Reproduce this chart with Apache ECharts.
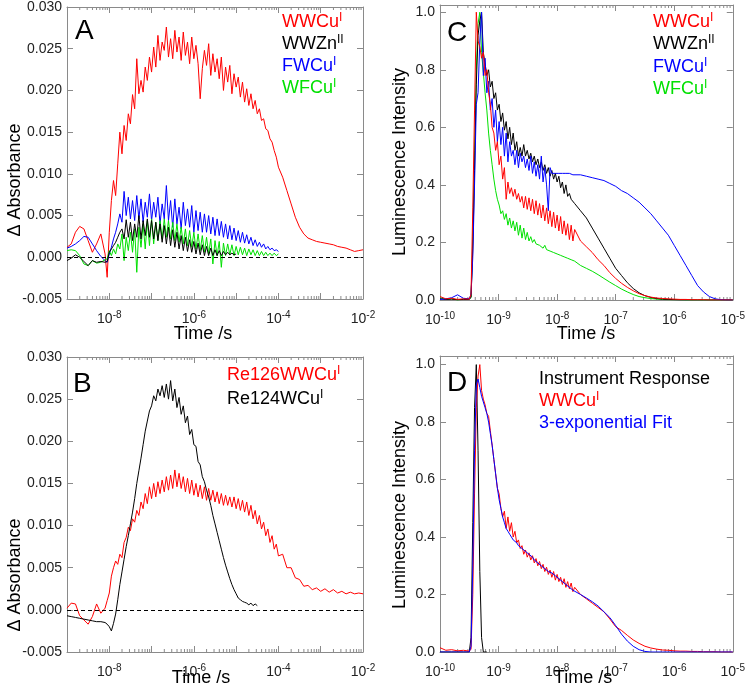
<!DOCTYPE html>
<html>
<head>
<meta charset="utf-8">
<title>Transient absorption and luminescence decays</title>
<script src="https://cdn.jsdelivr.net/npm/echarts@6/dist/echarts.min.js"></script>
<style>
  html, body { margin: 0; padding: 0; background: #fff; }
  #chart { width: 748px; height: 693px; }
</style>
</head>
<body>
<div id="chart"></div>
<script>
// sampling times, as log10(t / s)
const logTimeAB = [
  -9.0, -8.9, -8.8, -8.7, -8.6, -8.5, -8.4, -8.3, -8.2, -8.1,
  -8.05, -8.0, -7.95, -7.9, -7.85, -7.8, -7.75, -7.7, -7.65, -7.6,
  -7.55, -7.5, -7.45, -7.4, -7.35, -7.3, -7.25, -7.2, -7.15, -7.1,
  -7.05, -7.0, -6.95, -6.9, -6.85, -6.8, -6.75, -6.7, -6.65, -6.6,
  -6.55, -6.5, -6.45, -6.4, -6.35, -6.3, -6.25, -6.2, -6.15, -6.1,
  -6.05, -6.0, -5.95, -5.9, -5.85, -5.8, -5.75, -5.7, -5.65, -5.6,
  -5.55, -5.5, -5.45, -5.4, -5.35, -5.3, -5.25, -5.2, -5.15, -5.1,
  -5.05, -5.0, -4.95, -4.9, -4.85, -4.8, -4.75, -4.7, -4.65, -4.6,
  -4.55, -4.5, -4.45, -4.4, -4.35, -4.3, -4.25, -4.2, -4.15, -4.1,
  -4.05, -4.0, -3.9, -3.8, -3.7, -3.6, -3.5, -3.4, -3.3, -3.2,
  -3.1, -3.0, -2.9, -2.8, -2.7, -2.6, -2.5, -2.4, -2.3, -2.2,
  -2.1, -2.0
];
const logTimeCD = [
  -10.0, -9.9, -9.8, -9.7, -9.6, -9.5,
  -9.47, -9.44, -9.41, -9.38, -9.35, -9.32, -9.29, -9.26, -9.23, -9.2,
  -9.17, -9.14, -9.11, -9.08, -9.05, -9.02, -8.99, -8.96, -8.93, -8.9,
  -8.87, -8.84, -8.81, -8.78, -8.75, -8.72, -8.69, -8.66, -8.63, -8.6,
  -8.57, -8.54, -8.51, -8.48, -8.45, -8.42, -8.39, -8.36, -8.33, -8.3,
  -8.27, -8.24, -8.21, -8.18, -8.15, -8.12, -8.09, -8.06, -8.03, -8.0,
  -7.97, -7.94, -7.91, -7.88, -7.85, -7.82, -7.79, -7.76, -7.73, -7.7,
  -7.6, -7.5, -7.4, -7.3, -7.2, -7.1, -7.0, -6.9, -6.8, -6.7,
  -6.6, -6.5, -6.4, -6.3, -6.2, -6.1, -6.0, -5.9, -5.8, -5.7,
  -5.6, -5.5, -5.4, -5.3, -5.2, -5.1, -5.0
];

// panel A, delta absorbance
const wwcuA = [
  0.0012, 0.0016, 0.0030, 0.0037, 0.0034, 0.0020, 0.0006, 0.0016, 0.0028, 0.0004,
  -0.0024, 0.0030, 0.0068, 0.0092, 0.0074, 0.0112, 0.0150, 0.0124, 0.0158, 0.0140,
  0.0172, 0.0160, 0.0195, 0.0178, 0.0238, 0.0196, 0.0212, 0.0198, 0.0228, 0.0212,
  0.0240, 0.0222, 0.0252, 0.0228, 0.0266, 0.0236, 0.0258, 0.0248, 0.0276, 0.0240,
  0.0262, 0.0238, 0.0272, 0.0246, 0.0264, 0.0236, 0.0270, 0.0242, 0.0258, 0.0232,
  0.0264, 0.0238, 0.0254, 0.0232, 0.0190, 0.0226, 0.0248, 0.0230, 0.0256, 0.0218,
  0.0244, 0.0222, 0.0238, 0.0214, 0.0240, 0.0200, 0.0228, 0.0210, 0.0230, 0.0196,
  0.0220, 0.0204, 0.0216, 0.0192, 0.0210, 0.0186, 0.0202, 0.0182, 0.0196, 0.0178,
  0.0188, 0.0172, 0.0178, 0.0164, 0.0166, 0.0154, 0.0152, 0.0142, 0.0138, 0.0128,
  0.0120, 0.0108, 0.0096, 0.0080, 0.0064, 0.0048, 0.0036, 0.0028, 0.0023, 0.0021,
  0.0019, 0.0018, 0.0017, 0.0016, 0.0015, 0.0013, 0.0012, 0.0011, 0.0009, 0.0007,
  0.0008, 0.0009
];
const fwcuA = [
  0.0011, 0.0013, 0.0016, 0.0020, 0.0025, 0.0024, 0.0016, 0.0008, 0.0001, -0.0004,
  -0.0006, 0.0004, 0.0012, 0.0022, 0.0030, 0.0040, 0.0052, 0.0042, 0.0079, 0.0050,
  0.0072, 0.0046, 0.0068, 0.0044, 0.0074, 0.0046, 0.0070, 0.0042, 0.0066, 0.0048,
  0.0076, 0.0044, 0.0066, 0.0048, 0.0072, 0.0040, 0.0064, 0.0046, 0.0086, 0.0044,
  0.0068, 0.0036, 0.0070, 0.0040, 0.0060, 0.0034, 0.0066, 0.0038, 0.0058, 0.0036,
  0.0062, 0.0030, 0.0056, 0.0032, 0.0054, 0.0030, 0.0052, 0.0030, 0.0050, 0.0028,
  0.0048, 0.0026, 0.0046, 0.0026, 0.0043, 0.0024, 0.0040, 0.0022, 0.0038, 0.0021,
  0.0035, 0.0020, 0.0032, 0.0018, 0.0030, 0.0017, 0.0027, 0.0016, 0.0024, 0.0014,
  0.0021, 0.0013, 0.0018, 0.0012, 0.0016, 0.0010, 0.0013, 0.0009, 0.0011, 0.0008,
  0.0009, 0.0007
];
const wfcuA = [
  0.0008, 0.0009, 0.0008, 0.0002, -0.0008, -0.0010, -0.0004, -0.0007, -0.0006, -0.0003,
  -0.0002, 0.0008, 0.0002, 0.0010, 0.0004, 0.0016, 0.0010, 0.0028, -0.0004, 0.0024,
  0.0008, 0.0030, 0.0006, 0.0034, -0.0018, 0.0036, 0.0012, 0.0040, 0.0010, 0.0044,
  0.0014, 0.0046, 0.0016, 0.0042, 0.0020, 0.0044, 0.0022, 0.0046, 0.0024, 0.0044,
  0.0022, 0.0042, 0.0020, 0.0040, 0.0018, 0.0036, 0.0016, 0.0034, 0.0014, 0.0032,
  0.0012, 0.0030, 0.0010, 0.0028, 0.0008, 0.0026, 0.0006, 0.0024, 0.0004, 0.0022,
  -0.0008, 0.0020, 0.0002, 0.0019, -0.0012, 0.0017, 0.0002, 0.0016, 0.0003, 0.0015,
  0.0002, 0.0013, 0.0003, 0.0012, 0.0003, 0.0011, 0.0002, 0.0010, 0.0003, 0.0009,
  0.0002, 0.0008, 0.0002, 0.0007, 0.0002, 0.0006, 0.0002, 0.0005, 0.0002, 0.0005,
  0.0002, 0.0004
];
const wwznA = [
  -0.0004, -0.0001, 0.0003, 0.0000, -0.0005, -0.0010, -0.0004, -0.0006, -0.0005, -0.0006,
  -0.0005, 0.0006, 0.0010, 0.0014, 0.0018, 0.0024, 0.0030, 0.0034, 0.0022, 0.0045,
  0.0024, 0.0042, 0.0020, 0.0040, 0.0024, 0.0050, 0.0022, 0.0044, 0.0026, 0.0046,
  0.0024, 0.0044, 0.0022, 0.0042, 0.0020, 0.0040, 0.0018, 0.0038, 0.0016, 0.0036,
  0.0014, 0.0033, 0.0012, 0.0030, 0.0010, 0.0026, 0.0008, 0.0024, 0.0007, 0.0021,
  0.0006, 0.0019, 0.0004, 0.0017, 0.0003, 0.0015, 0.0002, 0.0013, 0.0002, 0.0011,
  0.0002, 0.0009, 0.0002, 0.0008, 0.0002, 0.0007, 0.0003, 0.0006, 0.0003, 0.0005,
  0.0003, 0.0004
];

// panel B, delta absorbance
const re126B = [
  0.0002, 0.0008, 0.0007, -0.0007, -0.0012, -0.0017, -0.0008, 0.0007, -0.0004, 0.0002,
  0.0011, 0.0020, 0.0040, 0.0050, 0.0058, 0.0054, 0.0066, 0.0062, 0.0080, 0.0086,
  0.0098, 0.0094, 0.0108, 0.0104, 0.0118, 0.0112, 0.0128, 0.0120, 0.0138, 0.0126,
  0.0146, 0.0132, 0.0150, 0.0134, 0.0152, 0.0138, 0.0154, 0.0140, 0.0158, 0.0142,
  0.0160, 0.0144, 0.0166, 0.0146, 0.0162, 0.0144, 0.0158, 0.0140, 0.0156, 0.0138,
  0.0154, 0.0136, 0.0150, 0.0134, 0.0148, 0.0132, 0.0146, 0.0130, 0.0144, 0.0130,
  0.0142, 0.0128, 0.0140, 0.0126, 0.0138, 0.0124, 0.0136, 0.0124, 0.0134, 0.0122,
  0.0134, 0.0120, 0.0132, 0.0118, 0.0130, 0.0116, 0.0128, 0.0112, 0.0124, 0.0108,
  0.0118, 0.0102, 0.0112, 0.0096, 0.0104, 0.0088, 0.0096, 0.0080, 0.0088, 0.0072,
  0.0078, 0.0064, 0.0066, 0.0050, 0.0050, 0.0038, 0.0036, 0.0028, 0.0029, 0.0024,
  0.0026, 0.0022, 0.0025, 0.0021, 0.0024, 0.0020, 0.0022, 0.0019, 0.0021, 0.0019,
  0.0020, 0.0019
];
const re124B = [
  -0.0007, -0.0008, -0.0009, -0.0010, -0.0011, -0.0012, -0.0013, -0.0014, -0.0014, -0.0015,
  -0.0017, -0.0020, -0.0025, -0.0016, -0.0005, 0.0012, 0.0030, 0.0045, 0.0060, 0.0075,
  0.0088, 0.0102, 0.0116, 0.0132, 0.0150, 0.0165, 0.0180, 0.0196, 0.0212, 0.0224,
  0.0236, 0.0242, 0.0254, 0.0248, 0.0262, 0.0254, 0.0266, 0.0252, 0.0268, 0.0250,
  0.0272, 0.0248, 0.0262, 0.0240, 0.0252, 0.0232, 0.0242, 0.0222, 0.0230, 0.0208,
  0.0214, 0.0196, 0.0194, 0.0176, 0.0172, 0.0158, 0.0152, 0.0142, 0.0134, 0.0124,
  0.0112, 0.0102, 0.0092, 0.0082, 0.0072, 0.0062, 0.0053, 0.0045, 0.0037, 0.0030,
  0.0024, 0.0019, 0.0014, 0.0012, 0.0010, 0.0009, 0.0008, 0.0006, 0.0008, 0.0005,
  0.0007, 0.0005
];

// panel C, normalised luminescence
const wwcuC = [
  0.012, 0.004, 0.006, 0.002, 0.004, 0.003,
  0.02, 0.32, 0.66, 1.00, 0.90, 0.88, 0.84, 0.86, 0.78, 0.80,
  0.72, 0.68, 0.60, 0.58, 0.52, 0.55, 0.47, 0.50, 0.42, 0.46,
  0.35, 0.41, 0.37, 0.39, 0.36, 0.385, 0.35, 0.37, 0.34, 0.36,
  0.32, 0.36, 0.315, 0.355, 0.31, 0.35, 0.30, 0.345, 0.295, 0.335,
  0.285, 0.33, 0.275, 0.32, 0.265, 0.31, 0.255, 0.305, 0.25, 0.295,
  0.24, 0.29, 0.23, 0.275, 0.225, 0.265, 0.21, 0.26, 0.205, 0.245,
  0.205, 0.185, 0.165, 0.14, 0.12, 0.095, 0.075, 0.058, 0.044, 0.032,
  0.022, 0.015, 0.010, 0.007, 0.005, 0.004, 0.003, 0.002, 0.002, 0.001,
  0.001, 0.001, 0, 0, 0, 0, 0
];
const wwznC = [
  0.004, 0.002, 0.003, 0.001, 0.002, 0.002,
  0.01, 0.18, 0.45, 0.75, 0.92, 0.97, 1.00, 0.86, 0.82, 0.78,
  0.80, 0.74, 0.76, 0.70, 0.72, 0.66, 0.68, 0.62, 0.65, 0.59,
  0.62, 0.56, 0.60, 0.54, 0.58, 0.52, 0.55, 0.50, 0.53, 0.50,
  0.54, 0.50, 0.52, 0.49, 0.51, 0.48, 0.50, 0.47, 0.49, 0.46,
  0.48, 0.45, 0.47, 0.44, 0.46, 0.43, 0.45, 0.42, 0.44, 0.41,
  0.43, 0.39, 0.41, 0.37, 0.40, 0.36, 0.37, 0.35, 0.345, 0.335,
  0.31, 0.285, 0.25, 0.215, 0.18, 0.145, 0.11, 0.085, 0.06, 0.04,
  0.025, 0.015, 0.009, 0.005, 0.003, 0.002, 0.001, 0, 0, 0,
  0, 0, 0, 0, 0, 0, 0
];
const fwcuC = [
  0.002, 0.004, 0.008, 0.018, 0.006, 0.004,
  0.02, 0.15, 0.40, 0.68, 0.72, 0.90, 1.00, 0.78, 0.84, 0.72,
  0.76, 0.66, 0.70, 0.60, 0.66, 0.55, 0.62, 0.54, 0.60, 0.50,
  0.58, 0.48, 0.55, 0.50, 0.52, 0.47, 0.52, 0.46, 0.51, 0.48,
  0.50, 0.46, 0.49, 0.45, 0.50, 0.44, 0.48, 0.43, 0.47, 0.42,
  0.50, 0.41, 0.46, 0.40, 0.31, 0.46, 0.44, 0.44, 0.44, 0.44,
  0.44, 0.44, 0.44, 0.44, 0.44, 0.44, 0.44, 0.44, 0.435, 0.435,
  0.435, 0.43, 0.425, 0.42, 0.415, 0.405, 0.395, 0.38, 0.37, 0.355,
  0.34, 0.32, 0.30, 0.275, 0.25, 0.225, 0.19, 0.155, 0.12, 0.085,
  0.05, 0.028, 0.012, 0.004, 0.001, 0, 0
];
const wfcuC = [
  0.008, 0.002, 0.004, 0.000, 0.003, 0.002,
  0.01, 0.22, 0.52, 0.80, 0.96, 1.00, 0.86, 0.79, 0.72, 0.66,
  0.58, 0.52, 0.47, 0.42, 0.38, 0.35, 0.33, 0.30, 0.31, 0.28,
  0.30, 0.26, 0.285, 0.25, 0.275, 0.24, 0.27, 0.225, 0.26, 0.215,
  0.25, 0.21, 0.235, 0.205, 0.22, 0.20, 0.21, 0.195, 0.20, 0.19,
  0.195, 0.18, 0.19, 0.175, 0.18, 0.17, 0.175, 0.165, 0.17, 0.16,
  0.165, 0.155, 0.16, 0.15, 0.155, 0.145, 0.148, 0.14, 0.14, 0.135,
  0.12, 0.11, 0.10, 0.088, 0.075, 0.062, 0.05, 0.038, 0.028, 0.019,
  0.012, 0.008, 0.005, 0.003, 0.002, 0.001, 0.001, 0.001, 0, 0,
  0, 0, 0, 0, 0, 0, 0
];

// panel D, decay with instrument response and fit
const irfD = [
  0, 0, 0, 0, 0, 0,
  0.05, 0.45, 0.85, 1.00, 0.70, 0.28, 0.05, 0, 0, 0
];
const wwcuD = [
  0.015, 0.006, 0.008, 0.004, 0.006, 0.003,
  0.01, 0.20, 0.55, 0.85, 0.96, 1.00, 0.91, 0.88, 0.86, 0.83,
  0.82, 0.77, 0.72, 0.67, 0.62, 0.57, 0.55, 0.50, 0.47, 0.49,
  0.43, 0.47, 0.42, 0.45, 0.40, 0.42, 0.38, 0.39, 0.36, 0.37,
  0.34, 0.355, 0.33, 0.345, 0.32, 0.335, 0.31, 0.325, 0.30, 0.315,
  0.29, 0.305, 0.28, 0.295, 0.27, 0.285, 0.26, 0.28, 0.25, 0.27,
  0.245, 0.26, 0.235, 0.255, 0.225, 0.245, 0.22, 0.24, 0.21, 0.225,
  0.20, 0.185, 0.17, 0.155, 0.14, 0.115, 0.088, 0.075, 0.058, 0.042,
  0.03, 0.02, 0.014, 0.01, 0.007, 0.006, 0.004, 0.003, 0.003, 0.002,
  0.002, 0.001, 0.001, 0.001, 0, 0, 0
];
const fitD = [
  0, 0, 0, 0, 0, 0,
  0.02, 0.30, 0.70, 0.93, 0.95, 0.92, 0.89, 0.87, 0.85, 0.83,
  0.80, 0.76, 0.72, 0.67, 0.62, 0.57, 0.53, 0.50, 0.47, 0.45,
  0.43, 0.42, 0.41, 0.40, 0.39, 0.385, 0.38, 0.37, 0.365, 0.36,
  0.355, 0.35, 0.345, 0.34, 0.335, 0.33, 0.32, 0.315, 0.31, 0.305,
  0.30, 0.295, 0.29, 0.285, 0.28, 0.278, 0.275, 0.27, 0.265, 0.26,
  0.255, 0.25, 0.245, 0.24, 0.235, 0.23, 0.225, 0.22, 0.215, 0.21,
  0.20, 0.188, 0.175, 0.16, 0.14, 0.12, 0.092, 0.062, 0.038, 0.02,
  0.008, 0.002, 0, 0, 0, 0, 0, 0, 0, 0,
  0, 0, 0, 0, 0, 0, 0
];

const minorMultipliers = [2, 3, 4, 5, 6, 7, 8, 9];

const RED = '#ff0000', BLACK = '#000000', BLUE = '#0000ff', GREEN = '#00e000';
const FRAME = '#8a8a8a';
const FONT = '"Liberation Sans", Arial, sans-serif';

const panels = [
  { grid: { left: 67, top: 5, width: 296, height: 294 }, xMin: -9, xMax: -2, yMin: -0.005, yMax: 0.03, yStep: 0.005, digits: 3, oddLabels: false },
  { grid: { left: 67, top: 357, width: 296, height: 295 }, xMin: -9, xMax: -2, yMin: -0.005, yMax: 0.03, yStep: 0.005, digits: 3, oddLabels: false },
  { grid: { left: 440, top: 5, width: 296, height: 295 }, xMin: -10, xMax: -5, yMin: 0, yMax: 1.025, yStep: 0.2, digits: 1, oddLabels: true },
  { grid: { left: 440, top: 356, width: 296, height: 296 }, xMin: -10, xMax: -5, yMin: 0, yMax: 1.03, yStep: 0.2, digits: 1, oddLabels: true }
];

function pairs(logTimes, values) {
  return values.map((v, i) => [Math.pow(10, logTimes[i]), v]);
}

const xAxes = [];
const yAxes = [];
panels.forEach((p, g) => {
  const line = { show: true, onZero: false, lineStyle: { color: FRAME, width: 1 } };
  const tick = { show: true, inside: true, length: 6, lineStyle: { color: FRAME } };
  const xBase = {
    type: 'log', logBase: 10, gridIndex: g,
    min: Math.pow(10, p.xMin), max: Math.pow(10, p.xMax), splitNumber: p.xMax - p.xMin,
    axisLine: line, axisTick: tick, splitLine: { show: false }
  };
  xAxes.push(Object.assign({}, xBase, {
    position: 'bottom',
    axisLabel: {
      margin: 11,
      formatter: v => {
        const n = Math.round(Math.log10(v));
        if (!p.oddLabels && n % 2 !== 0) return '';
        return '{b|10}{s|' + n + '}';
      },
      rich: {
        b: { fontSize: 14, lineHeight: 18, fontFamily: FONT, color: '#222' },
        s: { fontSize: 10, lineHeight: 10, verticalAlign: 'top', fontFamily: FONT, color: '#222' }
      }
    }
  }));
  xAxes.push(Object.assign({}, xBase, { position: 'top', axisLabel: { show: false } }));

  const yBase = {
    type: 'value', gridIndex: g, min: p.yMin, max: p.yMax, interval: p.yStep,
    axisLine: line, axisTick: tick, splitLine: { show: false }
  };
  yAxes.push(Object.assign({}, yBase, {
    position: 'left',
    axisLabel: {
      margin: 5, fontSize: 14, fontFamily: FONT, color: '#222',
      showMaxLabel: p.yMax < 1,
      formatter: v => v.toFixed(p.digits)
    }
  }));
  yAxes.push(Object.assign({}, yBase, { position: 'right', axisLabel: { show: false } }));
});

function trace(g, logTimes, values, color, z, extra) {
  return Object.assign({
    type: 'line', xAxisIndex: 2 * g, yAxisIndex: 2 * g,
    data: pairs(logTimes, values),
    showSymbol: false, symbol: 'none', silent: true, z: z,
    lineStyle: { color: color, width: 1 }, itemStyle: { color: color }
  }, extra || {});
}

const zeroLine = {
  markLine: {
    silent: true, symbol: 'none', label: { show: false },
    lineStyle: { color: '#000', type: [4, 3], width: 1 },
    data: [{ yAxis: 0 }]
  }
};

// small log ticks between the decades, top and bottom edge
function minorTicks(p, g) {
  const data = [];
  for (let d = p.xMin; d < p.xMax; d++) {
    minorMultipliers.forEach(m => data.push([m * Math.pow(10, d), p.yMin]));
  }
  return {
    type: 'custom', xAxisIndex: 2 * g, yAxisIndex: 2 * g, silent: true, clip: false, z: 1,
    data: data, encode: { x: 0, y: 1 },
    renderItem: (params, api) => {
      const lo = api.coord([api.value(0), p.yMin]);
      const hi = api.coord([api.value(0), p.yMax]);
      const st = { stroke: FRAME, lineWidth: 1 };
      return {
        type: 'group',
        children: [
          { type: 'line', shape: { x1: lo[0], y1: lo[1], x2: lo[0], y2: lo[1] - 3 }, style: st },
          { type: 'line', shape: { x1: hi[0], y1: hi[1], x2: hi[0], y2: hi[1] + 3 }, style: st }
        ]
      };
    }
  };
}

const series = [
  trace(0, logTimeAB, wwcuA, RED, 2, zeroLine),
  trace(0, logTimeAB, fwcuA, BLUE, 3),
  trace(0, logTimeAB, wfcuA, GREEN, 4),
  trace(0, logTimeAB, wwznA, BLACK, 5),
  trace(1, logTimeAB, re126B, RED, 2, zeroLine),
  trace(1, logTimeAB, re124B, BLACK, 3),
  trace(2, logTimeCD, wfcuC, GREEN, 2),
  trace(2, logTimeCD, wwznC, BLACK, 3),
  trace(2, logTimeCD, fwcuC, BLUE, 4),
  trace(2, logTimeCD, wwcuC, RED, 5),
  trace(3, logTimeCD, irfD, BLACK, 2),
  trace(3, logTimeCD, wwcuD, RED, 3),
  trace(3, logTimeCD, fitD, BLUE, 4)
];
panels.forEach((p, g) => series.push(minorTicks(p, g)));

// texts: panel letters, legends, axis titles
function entry(x, y, main, sup, color) {
  return {
    type: 'text', x: x, y: y, z: 10, silent: true,
    style: {
      text: sup ? '{b|' + main + '}{s|' + sup + '}' : '{b|' + main + '}',
      fill: color, align: 'left', verticalAlign: 'middle',
      rich: {
        b: { fontSize: 18, lineHeight: 20, fontFamily: FONT },
        s: { fontSize: 12, lineHeight: 12, verticalAlign: 'top', fontFamily: FONT }
      }
    }
  };
}
function plain(x, y, text, size, rotate) {
  return {
    type: 'text', x: x, y: y, z: 10, silent: true, rotation: rotate ? Math.PI / 2 : 0,
    style: { text: text, fill: '#000', fontSize: size, fontFamily: FONT, align: rotate || size < 20 ? 'center' : 'left', verticalAlign: 'middle' }
  };
}

const graphic = [
  plain(75, 31, 'A', 28), plain(73, 384, 'B', 28), plain(447, 33, 'C', 28), plain(447, 383, 'D', 28),
  entry(282, 22, 'WWCu', 'I', RED),
  entry(282, 44, 'WWZn', 'II', BLACK),
  entry(282, 66, 'FWCu', 'I', BLUE),
  entry(282, 88, 'WFCu', 'I', GREEN),
  entry(227, 375, 'Re126WWCu', 'I', RED),
  entry(227, 399, 'Re124WCu', 'I', BLACK),
  entry(653, 22, 'WWCu', 'I', RED),
  entry(653, 44, 'WWZn', 'II', BLACK),
  entry(653, 67, 'FWCu', 'I', BLUE),
  entry(653, 89, 'WFCu', 'I', GREEN),
  entry(539, 379, 'Instrument Response', '', BLACK),
  entry(539, 401, 'WWCu', 'I', RED),
  entry(539, 423, '3-exponential Fit', '', BLUE),
  plain(203, 334, 'Time /s', 18), plain(201, 678, 'Time /s', 18),
  plain(586, 334, 'Time /s', 18), plain(583, 678, 'Time /s', 18),
  plain(15, 180, 'Δ Absorbance', 18, true), plain(15, 575, 'Δ Absorbance', 18, true),
  plain(400, 162, 'Luminescence Intensity', 18, true), plain(400, 515, 'Luminescence Intensity', 18, true)
];

const chart = echarts.init(document.getElementById('chart'));
chart.setOption({
  animation: false,
  backgroundColor: '#fff',
  grid: panels.map(p => Object.assign({ containLabel: false }, p.grid)),
  xAxis: xAxes,
  yAxis: yAxes,
  series: series,
  graphic: graphic
});
</script>
</body>
</html>
